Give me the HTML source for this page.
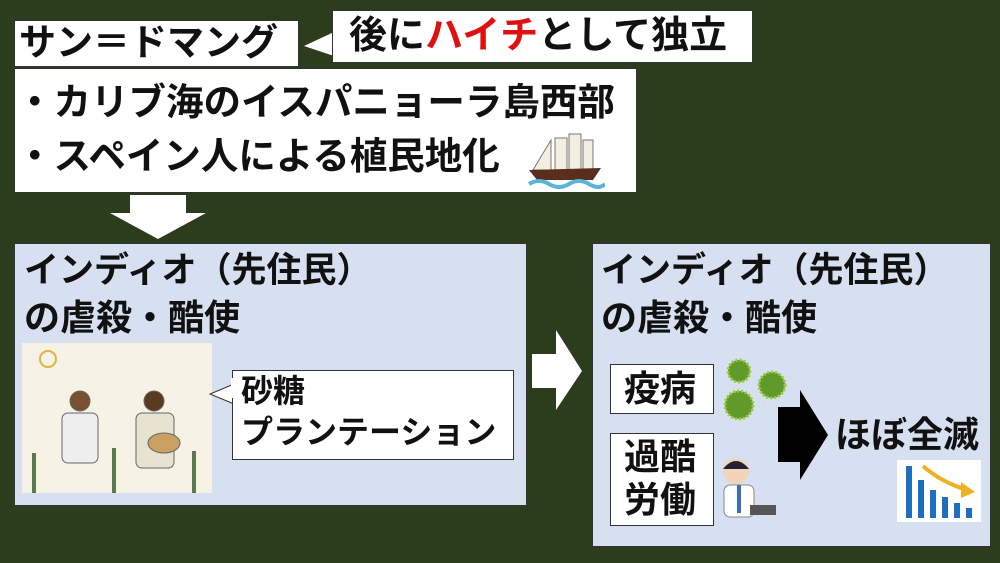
<!DOCTYPE html>
<html><head><meta charset="utf-8"><style>
body{margin:0;width:1000px;height:563px;background:#2c3d1d;position:relative;overflow:hidden;font-family:"Liberation Sans","Noto Sans CJK JP",sans-serif;font-weight:bold;color:#111}
.a{position:absolute;box-sizing:border-box}
.w{background:#fff;border:1px solid #333}
.p{background:#d7e0f1;border:1px solid #333}
.t{position:absolute;white-space:nowrap;line-height:1}
</style></head><body>
<div class="a w" style="left:14px;top:20px;width:285px;height:47px"></div>
<div class="t" style="left:19px;top:24px;font-size:37px">サン＝ドマング</div>
<svg class="a" style="left:300px;top:30px" width="40" height="30"><polygon points="34,2 4,16 34,26" fill="#fff"/></svg>
<div class="a w" style="left:332px;top:10px;width:421px;height:53px"></div>
<div class="t" style="left:349px;top:17px;font-size:38px">後に<span style="color:#e01010">ハイチ</span>として独立</div>
<div class="a w" style="left:14px;top:68px;width:623px;height:125px"></div>
<div class="t" style="left:16px;top:84px;font-size:37.5px">・カリブ海のイスパニョーラ島西部</div>
<div class="t" style="left:16px;top:138px;font-size:37.5px">・スペイン人による植民地化</div>
<svg class="a" style="left:525px;top:130px" width="80" height="60"><g fill="#f3eee0" stroke="#777" stroke-width="1"><rect x="30" y="8" width="12" height="32"/><rect x="44" y="4" width="12" height="36"/><rect x="58" y="10" width="10" height="30"/><polygon points="8,40 26,10 26,40"/></g><polygon points="4,40 76,38 68,50 12,50" fill="#5a2e1c"/><path d="M4 54 Q14 48 24 54 T44 54 T64 54 T80 54" stroke="#59b6d9" stroke-width="4" fill="none"/></svg>
<svg class="a" style="left:108px;top:195px" width="100" height="45"><polygon points="22,0 78,0 78,18 98,18 50,44 2,18 22,18" fill="#fff"/></svg>
<div class="a p" style="left:14px;top:243px;width:513px;height:263px"></div>
<div class="t" style="left:24px;top:253px;font-size:35px">インディオ（先住民）</div>
<div class="t" style="left:24px;top:300px;font-size:36px">の虐殺・酷使</div>
<svg class="a" style="left:22px;top:343px" width="190" height="150"><rect width="190" height="150" fill="#f7f2e6"/><circle cx="26" cy="16" r="8" fill="none" stroke="#e0b040" stroke-width="2"/><g fill="#eee" stroke="#666"><circle cx="58" cy="58" r="10" fill="#7a5030"/><rect x="40" y="70" width="36" height="50" rx="6"/><circle cx="132" cy="58" r="10" fill="#5a3a22"/><rect x="114" y="70" width="38" height="55" rx="6" fill="#e8e2d0"/><ellipse cx="142" cy="100" rx="16" ry="10" fill="#c9a060"/></g><g fill="#5f7a4a"><rect x="10" y="110" width="4" height="40"/><rect x="90" y="105" width="4" height="45"/><rect x="170" y="108" width="4" height="42"/></g></svg>
<svg class="a" style="left:208px;top:380px" width="30" height="30"><polygon points="26,4 2,14 26,24" fill="#fff" stroke="#333"/></svg>
<div class="a w" style="left:232px;top:370px;width:282px;height:90px"></div>
<svg class="a" style="left:228px;top:378px" width="8" height="20"><rect x="3" width="6" height="20" fill="#fff"/></svg>
<div class="t" style="left:241px;top:375px;font-size:32px">砂糖</div>
<div class="t" style="left:241px;top:416px;font-size:32px">プランテーション</div>
<svg class="a" style="left:532px;top:330px" width="52" height="82"><polygon points="0,24 24,24 24,0 50,41 24,80 24,58 0,58" fill="#fff"/></svg>
<div class="a p" style="left:592px;top:243px;width:399px;height:304px"></div>
<div class="t" style="left:601px;top:253px;font-size:35px">インディオ（先住民）</div>
<div class="t" style="left:601px;top:300px;font-size:36px">の虐殺・酷使</div>
<div class="a w" style="left:610px;top:364px;width:104px;height:50px"></div>
<div class="t" style="left:624px;top:371px;font-size:36px">疫病</div>
<div class="a w" style="left:610px;top:433px;width:104px;height:93px"></div>
<div class="t" style="left:624px;top:439px;font-size:36px">過酷</div>
<div class="t" style="left:624px;top:482px;font-size:36px">労働</div>
<svg class="a" style="left:722px;top:355px" width="70" height="70"><g fill="#5f9a2a" stroke="#9acb3c" stroke-width="3" stroke-dasharray="2 2"><circle cx="17" cy="16" r="11"/><circle cx="50" cy="30" r="13"/><circle cx="17" cy="50" r="14"/></g></svg>
<svg class="a" style="left:712px;top:455px" width="66" height="72"><circle cx="24" cy="16" r="13" fill="#f2d4b8"/><path d="M11 14 Q24 -2 37 14" fill="#223"/><rect x="12" y="30" width="30" height="32" rx="6" fill="#fff" stroke="#888"/><rect x="25" y="30" width="4" height="28" fill="#3b6fb5"/><rect x="38" y="50" width="26" height="10" fill="#555"/></svg>
<svg class="a" style="left:778px;top:390px" width="52" height="92"><polygon points="0,17 22,17 22,0 50,45 22,90 22,72 0,72" fill="#000"/></svg>
<div class="t" style="left:835px;top:417px;font-size:36px">ほぼ全滅</div>
<svg class="a" style="left:897px;top:460px" width="84" height="62"><rect width="84" height="62" fill="#fff"/><g fill="#1f6dbd"><rect x="9" y="6" width="6" height="52"/><rect x="21" y="20" width="6" height="38"/><rect x="33" y="30" width="6" height="28"/><rect x="45" y="37" width="6" height="21"/><rect x="57" y="43" width="6" height="15"/><rect x="69" y="48" width="6" height="10"/></g><path d="M26 6 Q44 22 70 30" stroke="#f0b020" stroke-width="4" fill="none"/><polygon points="64,22 78,32 64,38" fill="#f0b020"/></svg>
</body></html>
